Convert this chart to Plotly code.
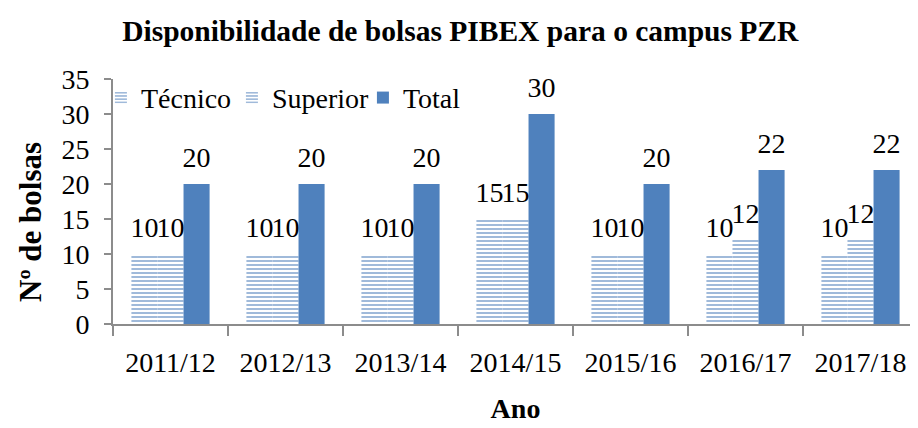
import plotly.graph_objects as go

anos = ["2011/12", "2012/13", "2013/14", "2014/15", "2015/16", "2016/17", "2017/18"]
tecnico = [10, 10, 10, 15, 10, 10, 10]
superior = [10, 10, 10, 15, 10, 12, 12]
total = [20, 20, 20, 30, 20, 22, 22]

blue = "#4F81BD"
axis_gray = "#8C8C8C"
serif = "Liberation Serif, Times New Roman, serif"
gap = 0.32

fig = go.Figure()
pat = dict(shape="-", fgcolor="#4275B5", bgcolor="white", size=4, solidity=0.5)
series = [("Técnico", tecnico, True), ("Superior", superior, True), ("Total", total, False)]
for name, vals, patterned in series:
    if patterned:
        marker = dict(color="white", pattern=pat, line=dict(width=0))
    else:
        marker = dict(color=blue, line=dict(width=0))
    fig.add_trace(go.Bar(name=name, x=anos, y=vals, marker=marker))
for name, vals, _ in series:
    fig.add_trace(go.Scatter(x=anos, y=vals, text=[str(v) for v in vals], mode="markers+text",
                             textposition="top center", showlegend=False, hoverinfo="skip",
                             cliponaxis=False,
                             marker=dict(size=14, color="rgba(0,0,0,0)", opacity=0),
                             textfont=dict(family=serif, size=28, color="black")))

fig.update_layout(
    width=910, height=420,
    margin=dict(l=105, r=0, t=71, b=104),
    paper_bgcolor="white", plot_bgcolor="white",
    barmode="group", bargap=gap, bargroupgap=0,
    scattermode="group", scattergap=gap,
    font=dict(family=serif, color="black"),
    title=dict(text="<b>Disponibilidade de bolsas PIBEX para o campus PZR</b>",
               x=0.497, xanchor="center", xref="container",
               y=1 - 23 / 420, yanchor="middle",
               font=dict(family=serif, size=29.5, color="black")),
    legend=dict(orientation="h", x=-0.015, y=1.025, xanchor="left", yanchor="top",
                font=dict(family=serif, size=28, color="black"),
                bgcolor="rgba(0,0,0,0)", itemwidth=30, tracegroupgap=0,
                entrywidth=86, entrywidthmode="pixels"),
    xaxis=dict(title=dict(text="<b>Ano</b>", font=dict(family=serif, size=28), standoff=22),
               showline=True, linecolor=axis_gray, linewidth=2,
               ticks="outside", tickson="boundaries", ticklen=10, tickcolor=axis_gray,
               tickwidth=2, tickfont=dict(family=serif, size=28), ticklabelstandoff=12,
               showgrid=False),
    yaxis=dict(range=[0, 35], dtick=5, showline=True, linecolor=axis_gray, linewidth=2,
               ticks="outside", ticklen=7, tickcolor=axis_gray, tickwidth=2,
               tickfont=dict(family=serif, size=28), ticklabelstandoff=9,
               showgrid=False, zeroline=False),
    annotations=[dict(text="<b>Nº de bolsas</b>", textangle=-90, showarrow=False,
                      xref="paper", yref="paper", x=-105 / 805 + 22 / 805, y=(316 - 214) / 245,
                      xanchor="center", yanchor="middle",
                      font=dict(family=serif, size=31, color="black"))],
)
fig.write_html("out.html")
